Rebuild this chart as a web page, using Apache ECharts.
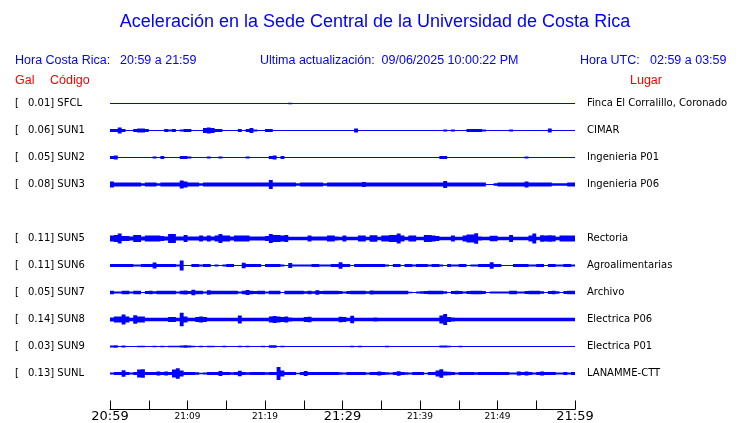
<!DOCTYPE html>
<html><head><meta charset="utf-8">
<script src="https://cdn.jsdelivr.net/npm/echarts@6/dist/echarts.min.js"></script>
<style>html,body{margin:0;padding:0;background:#fff}#c{width:740px;height:423px}</style>
</head><body><div id="c"></div>
<script>
// ---- data ----
const codes  = ['SFCL','SUN1','SUN2','SUN3','SUN5','SUN6','SUN7','SUN8','SUN9','SUNL'];
const galMax = [0.01, 0.06, 0.05, 0.08, 0.11, 0.11, 0.05, 0.14, 0.03, 0.13];
const places = ['Finca El Corralillo, Coronado','CIMAR','Ingenieria P01','Ingenieria P06',
                'Rectoria','Agroalimentarias','Archivo','Electrica P06','Electrica P01','LANAMME-CTT'];
const rowSlot = [0,1,2,3,5,6,7,8,9,10];   // SUN4 slot is empty
const timeLabels = ['20:59','','21:09','','21:19','','21:29','','21:39','','21:49','','21:59'];
const majorLabels = ['20:59','21:29','21:59'];

// envelope half-amplitude per half-minute (120 samples over the hour)
const ampSFCL = [0,0,0,0,0,0,0,0,0,0, 0,0,0,0,0,0,0,0,0,0, 0,0,0,0,0,0,0,0,0,0, 0,0,0,0,0,0,0,0,0,0,
  0,0,0,0,0,0,0.8,0,0,0, 0,0,0,0,0,0,0,0,0,0, 0,0,0,0,0,0,0,0,0,0, 0,0,0,0,0,0,0,0,0,0,
  0,0,0,0,0,0,0,0,0,0, 0,0,0,0,0,0,0,0,0,0, 0,0,0,0,0,0,0,0,0,0, 0,0,0,0,0,0,0,0,0,0];
const ampSUN1 = [1.5,1.5,3,1.5,0,0,1.5,2,2,1.5, 0,0,0,0,1.5,1,1.5,0,1,1.5, 1.5,0,0,0,2.5,3,2.5,1.5,1.5,0,
  0,0,0,1.5,0,1.5,2.5,1,0,0, 1.5,1.5,0,0,0,0,0,0,0,0, 0,0,0,0,0,0,0,0,0,0, 0,0,0,2,0,0,0,0,0,0,
  0,0,0,0,0,0,0,0,0,0, 0,0,0,0,0,0,1,0,1,0, 0,0,1.5,1.5,1.5,1.5,1,0,0,0, 0,0,0,1,0,0,0,0,0,0,
  0,0,0,2,0,0,0,0,0,0];
const ampSUN2 = [1.5,2,0,0,0,0,0,0,0,0, 0,1,0,1.5,0,0,0,0,1.5,1.5, 1,0,0,0,0,1,0,0,1,0, 0,0,0,0,0,1,0,0,0,0,
  0,1.5,2,0,1.5,0,0,0,0,0, 0,0,0,0,0,0,0,0,0,0, 0,0,0,0,0,0,0,0,0,0, 0,0,0,0,0,0,0,0,0,0,
  0,0,0,0,0,1.5,1.5,0,0,0, 0,0,0,0,0,0,0,0,0,0, 0,0,0,0,0,0,0,1,0,0, 0,0,0,0,0,0,0,0,0,0];
const ampSUN3 = [3,2,2,2,2,2,2,2,1.2,2, 2,2,1.2,2,2,2,2,2,4,3,
  2,2,2,1.2,2,2,2,2,2,2, 2,2,2,2,2,2,2,2,2,2,
  2,4.5,2,2,2,2,2,2,1.2,2, 2,2,2,2,2,1.2,2,2,2,2,
  2,2,2,2,2,2.5,2,2,2,2, 2,2,2,2,2,2,2,2,2,2,
  2,2,2,2,2,2,3.5,2,2,2, 2,2,2,2,2,2,2,0.5,0.5,1.2,
  2,2,2,2,2,2,2,3,2,2, 2,2,2,2,1.2,1.2,1.2,1.2,2,2];
const ampSUN5 = [3,3.5,5,2.5,2.5,2,3.5,3.5,2,3, 3,3,3,2.5,2,4.5,4.5,2,2,3.5, 2,2,2,3,2,3,2,3,4.5,3,
  3,2,3,3,3,3,2,2,2,2, 2.5,4.5,3.5,3.5,3,3.5,1.7,1.7,1.7,1.7, 1.7,3,2,2,2,2,3,3,2,1.7,
  3,1.7,1.7,1.7,3,3,1.7,3.3,3.3,1.7, 3,3,3.5,3.5,5,3,1.7,3,3,1.7, 1.7,3.5,3.5,3,2.5,1.7,1.7,1.7,3,1.7,
  1.7,3,4,4,5.3,2,1.7,1.7,2.7,2.7, 1.7,1.7,1.7,3.5,1.7,1.7,1.7,1.7,3,5, 1.7,3.3,3,3.3,3,1.7,3,3,3,3];
const ampSUN6 = [1.5,1.5,1.5,1.5,1.5,1.5,1,1,1.5,1.5, 1.5,3,1.5,1.5,1.5,1.5,1.5,1,5,0,
  0.5,1.5,1.5,1,1.5,1.5,0.5,1,0,1, 1.5,1.5,0.5,0.5,2.7,1.5,1.5,1.5,1.5,0.5,
  1.5,1.5,1.5,1.5,1,0.5,2.5,1,1,1, 1,1,1.5,1.5,1,1,1,1.5,1.5,3.3,
  1.5,1.5,0.5,1.5,1.5,1.5,1.5,1.5,1.5,1.5, 1.5,1,0.5,1.5,1.5,0.5,1.5,1.5,1,1.5,
  1.5,1.5,1,1.5,1.5,1,0.5,1.5,1,1, 1.5,1.5,0.5,1,1,1.5,1.5,1.5,3.3,1.5,
  1.5,0.5,0.5,0.5,1.5,1.5,1.5,1.5,1,1, 1.5,1.5,0.5,1.5,1.5,1,1,1.5,1.5,1];
const ampSUN7 = [1.7,1,1,1.7,1.7,1,1.7,1.7,0.5,1.5, 1.7,1.2,1.7,1.7,1.7,1.7,1.7,1,1.7,2,
  1.5,2.7,1.7,1.7,1,2.2,1.7,1.7,1.7,1.7, 1.7,1.7,1.7,1,1.7,2.5,1.7,1.5,1.7,1.7,
  1,1.7,1.7,1.7,0.5,1.7,1.7,1.7,1.7,1.7, 1.2,1.7,1.2,2.2,1.5,1.7,1.7,1.7,1.7,1.5,
  1,1.5,1.7,1.7,1.7,1.7,1.2,2,1.7,1.7, 1.7,1.7,1.7,1.7,1.7,1.7,1.7,0.8,0.5,1,
  1.2,1.5,1.7,1.7,1.7,1.7,1.2,0.5,1.5,1.7, 1.5,1,1.5,1.7,1.7,1.7,1.5,0.5,1,1,
  1,1,1,1.7,1.7,1,1,1.5,1.7,1.7, 1.7,1.2,0.5,1.5,1.7,1.2,0.5,1.5,1.7,1.7];
const ampSUN8 = [2,3,3,5,3,1.7,4.3,3,3,1.7, 1.7,1.7,1.7,1.7,1.7,2.5,2.5,1.7,6.7,3,
  1.7,1.7,2.5,3,2.5,1.7,1.7,1.7,1.7,1.7, 1.7,1.7,1.7,4,1.7,1.7,1.7,1.7,1.7,1.7,
  1.7,3,3.5,3,2.5,3,2,1.7,1.7,1.7, 2.5,2.7,1.7,1.7,1.7,1.7,1.7,1.7,1.7,2.7,
  2.5,1.7,3.8,1.7,1.7,1.7,1.7,1.7,2,1.7, 1.7,1.7,1.7,1.7,1.7,1.7,1.7,1.7,1.7,1.7,
  1.7,1.7,1.7,1.7,1.7,4,5.5,2.5,2,1.8, 1.8,1.8,1.8,1.8,1.8,1.8,1.8,1.8,1.8,1.8,
  1.8,1.8,1.8,1.8,1.8,1.8,1.8,1.8,1.8,1.8, 1.8,1.8,1.8,1.8,1.8,1.8,1.8,1.8,1.8,1.8];
const ampSUN9 = [1,1.3,0,1,0,0,0,0.7,0.7,0, 0,0.7,0,0.7,0,0.7,0.7,0.7,1,1.3, 1,0.7,0,0.7,0,0.7,0.7,0,0,0.7,
  0,0,0,0.7,0,0.7,0,0,0,0.7, 0,1.3,1.3,0,0.7,0,0,0,0,0, 0,0,0,0,0,0,0,0,0,0,
  0,0,0.7,0,0.7,0,0,0,0,0, 0,0.7,0,0,0,0,0,0,0,0, 0,0,0,0,0,1,1,0.7,0,0,
  0.7,0,0,0,0,0,0,0,0,0, 0,0,0,0,0,0,0,0,0,0, 0,0,0,0,0,0,0,0,0,0];
const ampSUNL = [1,1.5,1.5,3.3,1.5,1,1.5,4,4.2,1.5, 1.5,1.5,2,1.5,2,1.5,4,5.3,3,1.5,
  1.5,1.5,1.2,0.8,1,1.5,1.5,1.5,2.5,1.5, 1.5,1.2,1.5,2.7,1.5,1.2,1.5,1.5,1.5,1.5,
  1.2,1.5,1.5,6.5,3,1.5,1.5,1.5,0.8,1.5, 2.5,1.5,1.5,1.5,1.5,1.5,1.5,1.5,1.5,1.2,
  1,1.5,1.5,1.5,1.5,1.5,1,1.5,1.5,2, 1.5,1.2,1,1.5,2.3,1.5,1.2,1,1.5,1.5,
  1.5,0.8,1.5,1.5,3,4.3,2,1.8,1.5,1, 1.5,1.5,1.5,1.5,1.2,1.5,1.5,1.5,1.5,1.5,
  1.5,1.5,1.5,1,1,2,1.5,2,1.5,1, 1.5,2,1.5,1.5,1.5,1,1,1.5,1,1.5];
const traces = [ampSFCL, ampSUN1, ampSUN2, ampSUN3, ampSUN5, ampSUN6, ampSUN7, ampSUN8, ampSUN9, ampSUNL];

// ---- chart ----
const ROW = 27;          // trace offset spacing in amplitude units
const BLUE = '#0000ff', RED = '#ff0000';
const slotToStation = {};
rowSlot.forEach((s, k) => slotToStation[s] = k);

const chart = echarts.init(document.getElementById('c'), null, {renderer: 'canvas'});

const headFont = '12.5px "Liberation Sans", Arial, sans-serif';
function txt(x, y, text, fill, font, align) {
  return {type: 'text', x: x, y: y, silent: true,
    style: {text: text, fill: fill, font: font, align: align || 'left', verticalAlign: 'middle'}};
}

chart.setOption({
  animation: false,
  backgroundColor: '#fff',
  graphic: [
    txt(375, 22.5, 'Aceleración en la Sede Central de la Universidad de Costa Rica', BLUE, '18px "Liberation Sans", Arial, sans-serif', 'center'),
    txt(15, 60.5, 'Hora Costa Rica:', BLUE, headFont),
    txt(120, 60.5, '20:59 a 21:59', BLUE, headFont),
    txt(260, 60.5, 'Ultima actualización:  09/06/2025 10:00:22 PM', BLUE, headFont),
    txt(580, 60.5, 'Hora UTC:', BLUE, headFont),
    txt(650, 60.5, '02:59 a 03:59', BLUE, headFont),
    txt(15, 80.5, 'Gal', RED, headFont),
    txt(50, 80.5, 'Código', RED, headFont),
    txt(630, 80.5, 'Lugar', RED, headFont)
  ],
  grid: {left: 110, right: 165, top: 76.5, bottom: 13.5, containLabel: false},
  xAxis: {
    type: 'value', min: 0, max: 60, interval: 5,
    axisLine: {show: true, onZero: false, lineStyle: {color: '#000', width: 1}},
    axisTick: {show: true, inside: true, length: 9, lineStyle: {color: '#000', width: 1}},
    splitLine: {show: false},
    axisLabel: {
      margin: 7, verticalAlign: 'middle', color: '#000',
      formatter: v => {
        const s = timeLabels[Math.round(v / 5)] || '';
        if (!s) return '';
        return majorLabels.indexOf(s) >= 0 ? '{b|' + s + '}' : '{s|' + s + '}';
      },
      rich: {
        b: {fontSize: 13, fontFamily: '"DejaVu Sans", sans-serif', color: '#000'},
        s: {fontSize: 9, fontFamily: '"DejaVu Sans", sans-serif', color: '#000'}
      }
    }
  },
  yAxis: [{
    type: 'value', inverse: true, min: -ROW, max: 11 * ROW + 9, interval: ROW,
    axisLine: {show: false}, axisTick: {show: false}, splitLine: {show: false},
    axisLabel: {
      align: 'left', margin: 95, color: '#000',
      formatter: v => {
        const k = slotToStation[Math.round(v / ROW)];
        if (k === undefined || v < 0) return '';
        return '{b|[}{c|' + galMax[k].toFixed(2) + '] ' + codes[k] + '}';
      },
      rich: {
        b: {width: 13, fontSize: 10, fontFamily: '"DejaVu Sans", sans-serif', color: '#000'},
        c: {fontSize: 10, fontFamily: '"DejaVu Sans", sans-serif', color: '#000'}
      }
    }
  }, {
    type: 'value', inverse: true, position: 'right', min: -ROW, max: 11 * ROW + 9, interval: ROW,
    axisLine: {show: false}, axisTick: {show: false}, splitLine: {show: false},
    axisLabel: {
      align: 'left', margin: 12, color: '#000',
      fontSize: 10, fontFamily: '"DejaVu Sans", sans-serif',
      formatter: v => {
        const k = slotToStation[Math.round(v / ROW)];
        if (k === undefined || v < 0) return '';
        return places[k];
      }
    }
  }],
  series: [{
    type: 'custom',
    coordinateSystem: 'cartesian2d',
    data: traces.map((_, k) => [30, rowSlot[k] * ROW]),
    renderItem: (params, api) => {
      const k = params.dataIndex;
      const amps = traces[k];
      const base = rowSlot[k] * ROW;
      const n = amps.length, dt = 60 / n;
      const up = [], dn = [];
      for (let i = 0; i < n; i++) {
        const a = Math.max(amps[i], 0.5);
        up.push(api.coord([i * dt, base - a]), api.coord([(i + 1) * dt, base - a]));
        dn.push(api.coord([i * dt, base + a]), api.coord([(i + 1) * dt, base + a]));
      }
      return {type: 'polygon', shape: {points: up.concat(dn.reverse())}, style: {fill: BLUE}};
    }
  }]
});
</script></body></html>
